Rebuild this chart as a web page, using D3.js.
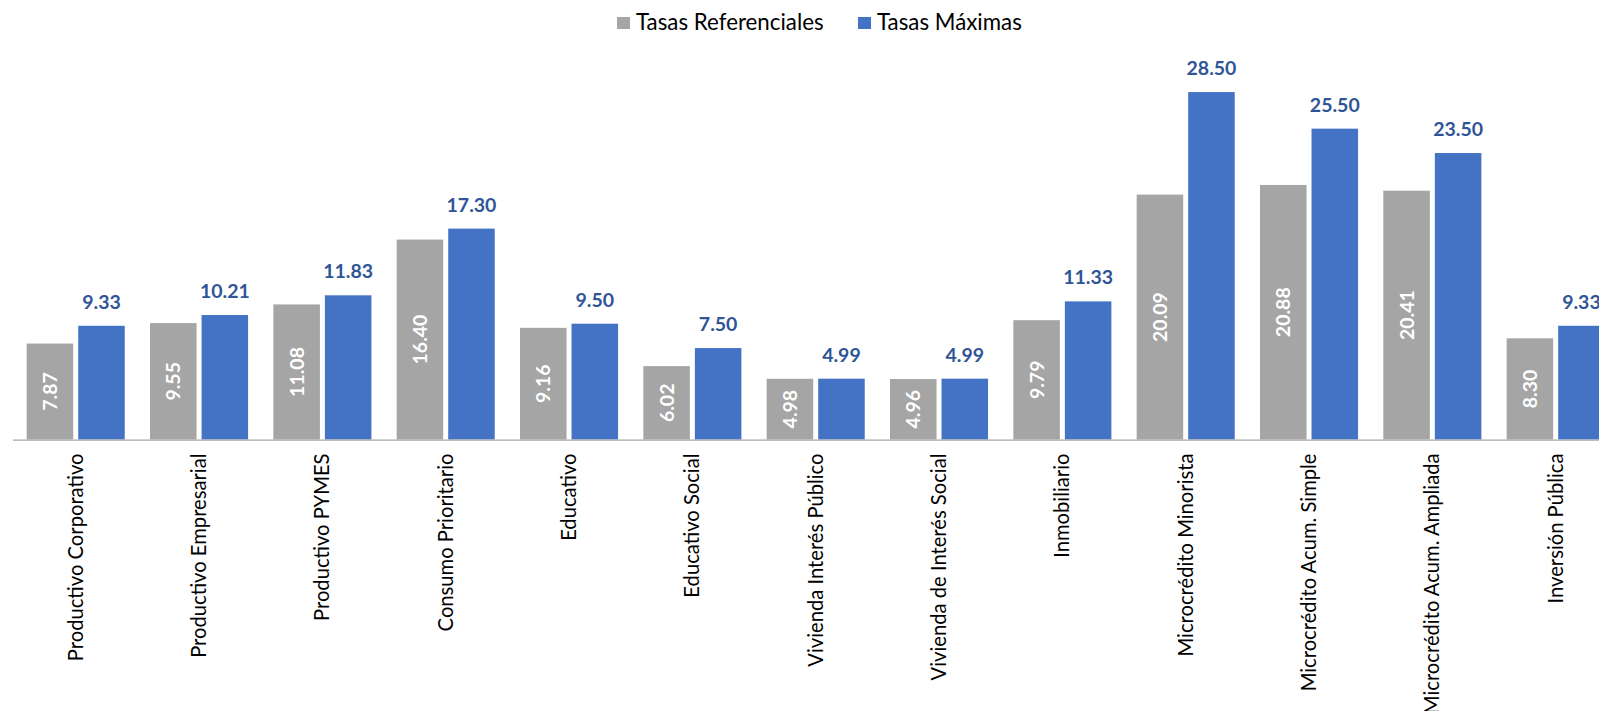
<!DOCTYPE html>
<html>
<head>
<meta charset="utf-8">
<script src="https://cdn.jsdelivr.net/npm/d3@7"></script>
<style>
  html, body { margin: 0; padding: 0; background: #fff; overflow: hidden; }
  svg { display: block; }
  text { font-family: "Lato", "Open Sans", sans-serif; }
</style>
</head>
<body>
<svg id="chart" width="1599" height="711"></svg>
<script>
const categories = [
  "Productivo Corporativo", "Productivo Empresarial", "Productivo PYMES",
  "Consumo Prioritario", "Educativo", "Educativo Social",
  "Vivienda Interés Público", "Vivienda de Interés Social", "Inmobiliario",
  "Microcrédito Minorista", "Microcrédito Acum. Simple",
  "Microcrédito Acum. Ampliada", "Inversión Pública"
];
const tasasReferenciales = [7.87, 9.55, 11.08, 16.40, 9.16, 6.02, 4.98, 4.96, 9.79, 20.09, 20.88, 20.41, 8.30];
const tasasMaximas = [9.33, 10.21, 11.83, 17.30, 9.50, 7.50, 4.99, 4.99, 11.33, 28.50, 25.50, 23.50, 9.33];
const seriesNames = ["Tasas Referenciales", "Tasas Máximas"];
const seriesColors = ["#A5A5A5", "#4472C4"];

const svg = d3.select("#chart");
const baseY = 439.5;
const step = 123.33;
const x0 = d3.scaleBand()
  .domain(categories)
  .range([14.06, 14.06 + step * categories.length])
  .paddingInner(0.205)
  .paddingOuter(0.1025);
const x1 = d3.scaleBand()
  .domain([0, 1])
  .range([0, x0.bandwidth()])
  .paddingInner(0.097)
  .paddingOuter(0);
const y = d3.scaleLinear().domain([0, 30]).range([baseY, baseY - 12.19 * 30]);

const rows = categories.map((c, i) => ({ c, vals: [tasasReferenciales[i], tasasMaximas[i]] }));

const g = svg.selectAll("g.cat").data(rows).join("g")
  .attr("class", "cat")
  .attr("transform", d => `translate(${x0(d.c)},0)`);

g.selectAll("rect").data(d => d.vals.map((v, k) => ({ v, k }))).join("rect")
  .attr("x", d => x1(d.k))
  .attr("width", x1.bandwidth())
  .attr("y", d => y(d.v))
  .attr("height", d => y(0) - y(d.v))
  .attr("fill", d => seriesColors[d.k]);

// Gray labels: rotated, centered in bar
g.append("text")
  .attr("transform", d => {
    const cx = x1(0) + x1.bandwidth() / 2;
    const cy = (y(d.vals[0]) + y(0)) / 2;
    return `translate(${cx},${cy}) rotate(-90)`;
  })
  .attr("text-anchor", "middle")
  .attr("dy", "0.36em")
  .attr("fill", "#ffffff")
  .attr("font-weight", "bold")
  .attr("font-size", 19.5)
  .text(d => d.vals[0].toFixed(2));

// Blue labels above bars
g.append("text")
  .attr("x", x1(1) + x1.bandwidth() / 2)
  .attr("y", d => y(d.vals[1]) - 17)
  .attr("text-anchor", "middle")
  .attr("fill", "#2F5597")
  .attr("font-weight", "bold")
  .attr("font-size", 19.5)
  .text(d => d.vals[1].toFixed(2));

// Axis line
svg.append("line")
  .attr("x1", 13).attr("x2", 1599)
  .attr("y1", baseY + 0.6).attr("y2", baseY + 0.6)
  .attr("stroke", "#A6A6A6").attr("stroke-width", 1.3);

// Category labels
svg.append("g").selectAll("text").data(categories).join("text")
  .attr("transform", d => `translate(${x0(d) + x0.bandwidth() / 2},${baseY + 14}) rotate(-90)`)
  .attr("text-anchor", "end")
  .attr("dy", "0.35em")
  .attr("fill", "#000")
  .attr("font-size", 20.2)
  .text(d => d);

// Legend
const legendX = [617, 858];
const legend = svg.append("g").selectAll("g").data(seriesNames).join("g")
  .attr("transform", (d, i) => `translate(${legendX[i]},17)`);
legend.append("rect").attr("width", 13).attr("height", 12).attr("fill", (d, i) => seriesColors[i]);
legend.append("text").attr("x", 19).attr("y", 13).attr("font-size", 22.3).attr("fill", "#000").text(d => d);
</script>
</body>
</html>
